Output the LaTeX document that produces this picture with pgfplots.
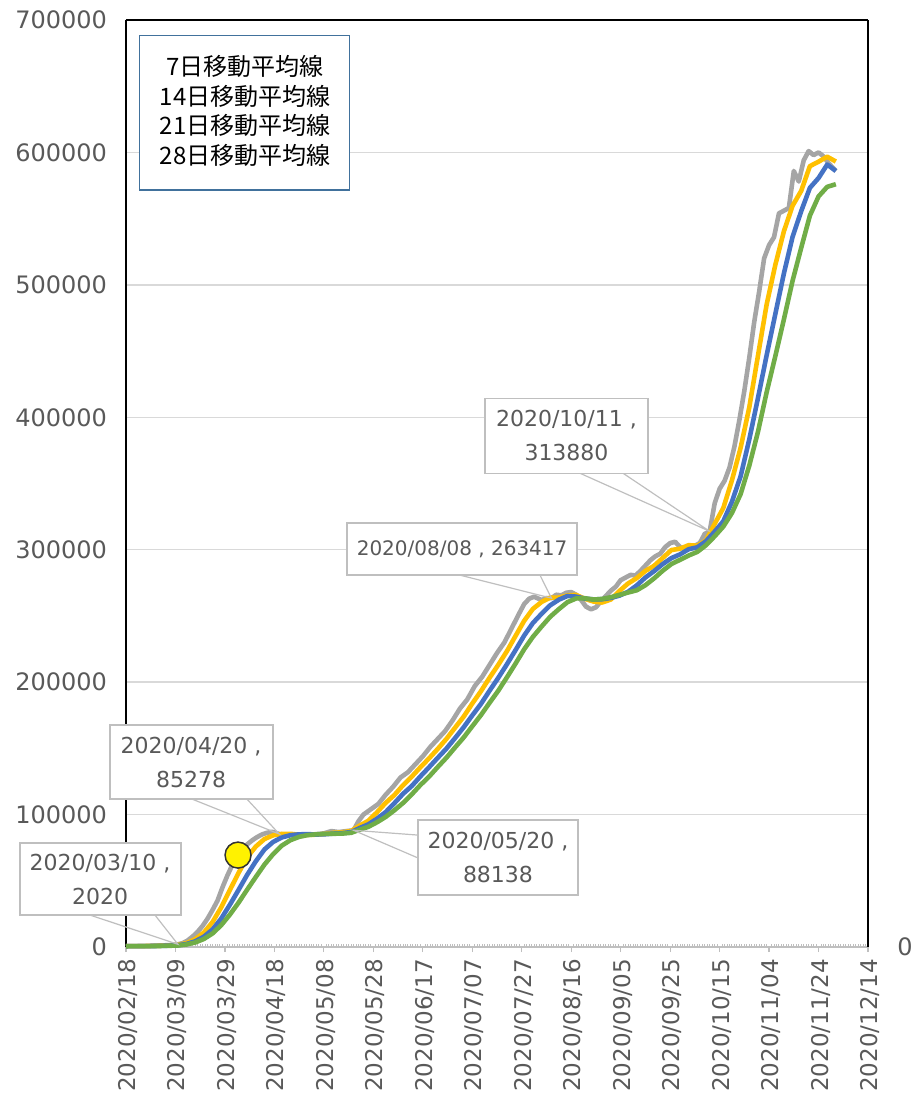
\documentclass[border=0pt]{standalone}
\usepackage{fontspec}
\setmainfont{DejaVu Sans}
\newfontfamily\jp{Noto Sans CJK JP}
\usepackage{pgfplots}
\pgfplotsset{compat=1.18}
\definecolor{sgray}{HTML}{A5A5A5}
\definecolor{syellow}{HTML}{FFC000}
\definecolor{sblue}{HTML}{4472C4}
\definecolor{sgreen}{HTML}{70AD47}
\definecolor{gridc}{HTML}{D9D9D9}
\definecolor{lbl}{HTML}{595959}
\definecolor{legendblue}{HTML}{41719C}
\definecolor{callout}{HTML}{BFBFBF}
\begin{document}
\begin{tikzpicture}
\begin{axis}[
  width=371pt, height=463.5pt, scale only axis,
  xmin=0, xmax=300, ymin=0, ymax=700000,
  clip=false,
  separate axis lines,
  x axis line style={draw=callout, line width=0.75pt},
  y axis line style={draw=black, line width=0.9pt},
  xtick={0,20,...,300},
  xticklabels={2020/02/18,2020/03/09,2020/03/29,2020/04/18,2020/05/08,2020/05/28,2020/06/17,2020/07/07,2020/07/27,2020/08/16,2020/09/05,2020/09/25,2020/10/15,2020/11/04,2020/11/24,2020/12/14},
  minor x tick num=19,
  xtick pos=bottom,
  tick align=outside,
  major tick length=2.5pt,
  minor tick length=1.5pt,
  x tick style={draw=callout, line width=0.6pt},
  minor x tick style={draw=callout, line width=0.5pt, yshift=1.5pt},
  xticklabel style={rotate=90, anchor=east, font=\fontsize{11.5}{13}\selectfont, text=lbl, yshift=-1pt},
  ytick={0,100000,...,700000},
  ytick style={draw=none},
  ymajorgrids,
  grid style={draw=gridc, line width=0.75pt},
  yticklabel style={font=\fontsize{12}{14}\selectfont, text=lbl, xshift=-3.5pt},
  scaled y ticks=false,
  /pgf/number format/.cd, fixed, precision=0, 1000 sep={}, assume math mode=true,
  /pgfplots/.cd,
  legend style={at={(axis description cs:0.0175,0.984)}, anchor=north west,
    draw=legendblue, line width=0.75pt, fill=white,
    font=\jp\fontsize{12}{14}\selectfont, text=black,
    inner xsep=10pt, inner ysep=9pt, row sep=0pt,
    nodes={inner xsep=0pt, inner ysep=0pt, text height=11pt, text depth=3.8pt, text width=85pt, align=center}},
  legend image code/.code={},
  extra description/.code={
    \draw[black, line width=0.9pt] (rel axis cs:0,1) -- (rel axis cs:1,1);
    \node[text=lbl, font=\fontsize{12}{14}\selectfont] at (rel axis cs:1,0) [xshift=18.5pt] {0};
    \path (rel axis cs:0,0) ++(-63pt,-77pt) rectangle ++(457.5pt,550.5pt);
  },
]
% 7-day
\addplot[sgray, line width=2.3pt, line join=round] coordinates {
(0,600)(4,700)(8,800)(12,1000)(16,1300)(19,1600)(21,2020)(23,3000)(25,5000)(27,8000)(29,11500)(31,16000)(33,21500)(35,28000)(37,35000)(39,45000)(41,54000)(43,62000)(45,68000)(47,73500)(49,77500)(51,80500)(53,83000)(55,85000)(57,86200)(59,87000)(62,85278)(65,84800)(68,84400)(71,84500)(74,84800)(77,85200)(80,85800)(83,87500)(86,86800)(89,87500)(92,88138)(94,95000)(96,100000)(99,104000)(102,108000)(105,115000)(108,121000)(111,128000)(114,132000)(117,138000)(120,144000)(123,151000)(126,157000)(129,163000)(132,171000)(135,180000)(138,187000)(141,197000)(144,204000)(147,213000)(150,222000)(153,230000)(156,241000)(159,252000)(161,259000)(163,263000)(165,264500)(168,262000)(170,263500)(172,263417)(174,266000)(176,265500)(178,267500)(180,268000)(182,266000)(184,262000)(186,257000)(188,255000)(190,256500)(192,261000)(194,265000)(196,269000)(198,272000)(200,277000)(202,279000)(204,281000)(206,280500)(208,284000)(210,288000)(212,292000)(214,295000)(216,297000)(218,302000)(220,305000)(222,306000)(224,302000)(226,300500)(228,302000)(230,303000)(232,305000)(234,312000)(236,313880)(238,335000)(240,346000)(242,352000)(244,362000)(246,378000)(248,398000)(250,420000)(252,445000)(254,472000)(256,495000)(258,520000)(260,530000)(262,536000)(264,554000)(266,556000)(268,558000)(270,586000)(272,578000)(274,594000)(276,601000)(278,598000)(280,600000)(282,597000)(284,592000)(287,586000)
};
% 14-day
\addplot[syellow, line width=2.3pt, line join=round] coordinates {
(0,600)(3.5,645)(7,688)(10.5,808)(14,963)(17.5,1188)(21,1585)(24.5,2975)(28,5885)(31.5,10950)(35,18875)(38.5,29950)(42,43000)(45.5,55950)(49,67750)(52.5,75900)(56,81550)(59.5,84350)(63,85360)(66.5,85450)(70,84795)(73.5,84675)(77,84835)(80.5,85415)(84,86235)(87.5,86615)(91,87600)(94.5,91700)(98,95315)(101.5,101775)(105,108850)(108.5,114750)(112,122150)(115.5,128600)(119,135650)(122.5,142400)(126,149500)(129.5,157050)(133,165500)(136.5,173900)(140,183850)(143.5,193150)(147,203350)(150.5,213050)(154,223350)(157.5,234900)(161,246350)(164.5,255300)(168,260500)(171.5,263770)(175,263875)(178.5,265520)(182,265875)(185.5,262925)(189,260875)(192.5,260125)(196,262375)(199.5,268875)(203,274500)(206.5,278575)(210,284000)(213.5,287825)(217,293750)(220.5,299750)(224,300750)(227.5,303425)(231,303000)(234.5,307035)(238,319500)(241.5,331485)(245,352500)(248.5,377000)(252,407500)(255.5,446375)(259,485000)(262.5,514875)(266,540500)(269.5,559750)(273,571000)(276.5,589625)(280,593000)(283.5,596750)(287,593125)
};
% 21-day
\addplot[sblue, line width=2.3pt, line join=round] coordinates {
(0,600)(3.5,630)(7,658)(10.5,738)(14,842)(17.5,1022)(21,1315)(24.5,2292)(28,4307)(31.5,7783)(35,13257)(38.5,21467)(42,31917)(45.5,43100)(49,54500)(52.5,64767)(56,73700)(59.5,79367)(63,82740)(66.5,84433)(70,85063)(73.5,85217)(77,84930)(80.5,85143)(84,85647)(87.5,85993)(91,86800)(94.5,89827)(98,92633)(101.5,96900)(105,101877)(108.5,108583)(112,115667)(115.5,121500)(119,128767)(122.5,135667)(126,142767)(129.5,149700)(133,157667)(136.5,165867)(140,174900)(143.5,183533)(147,193567)(150.5,203200)(154,213467)(157.5,224200)(161,235233)(164.5,244633)(168,251567)(171.5,258013)(175,262250)(178.5,265047)(182,264583)(185.5,263097)(189,262500)(192.5,262617)(196,263583)(199.5,265333)(203,268250)(206.5,273050)(210,279000)(213.5,283800)(217,289167)(220.5,293633)(224,296500)(227.5,300367)(231,301833)(234.5,306440)(238,313667)(241.5,321523)(245,336333)(248.5,355490)(252,383333)(255.5,414417)(259,446667)(262.5,477750)(266,508667)(269.5,536250)(273,555667)(276.5,573250)(280,580667)(283.5,590833)(287,586000)
};
% 28-day
\addplot[sgreen, line width=2.3pt, line join=round] coordinates {
(0,600)(3.5,623)(7,644)(10.5,704)(14,781)(17.5,916)(21,1136)(24.5,1891)(28,3424)(31.5,6069)(35,10230)(38.5,16463)(42,24443)(45.5,33450)(49,43313)(52.5,52925)(56,62275)(59.5,70150)(63,76555)(66.5,80675)(70,83173)(73.5,84513)(77,85098)(80.5,85433)(84,85515)(87.5,85645)(91,86218)(94.5,88558)(98,90775)(101.5,94195)(105,98225)(108.5,103225)(112,108733)(115.5,115188)(119,122250)(122.5,128575)(126,135825)(129.5,142825)(133,150575)(136.5,158150)(140,166675)(143.5,175100)(147,184425)(150.5,193475)(154,203600)(157.5,214025)(161,224850)(164.5,234175)(168,241925)(171.5,249335)(175,255113)(178.5,260410)(182,263188)(185.5,263348)(189,262375)(192.5,262823)(196,264125)(199.5,265900)(203,267688)(206.5,269350)(210,273188)(213.5,278350)(217,284125)(220.5,289163)(224,292375)(227.5,295625)(231,298375)(234.5,303393)(238,310125)(241.5,317455)(245,327750)(248.5,342018)(252,363500)(255.5,388930)(259,418750)(262.5,445938)(266,474000)(269.5,503063)(273,528000)(276.5,552250)(280,566750)(283.5,574000)(287,576000)
};
\legend{7日移動平均線,14日移動平均線,21日移動平均線,28日移動平均線}
% highlighted point
\addplot[only marks, mark=*, mark size=6.5pt, mark options={fill=yellow, draw=black!80, line width=0.75pt}, forget plot] coordinates {(45.3,69400)};
% callouts
\draw[callout, line width=0.6pt] (axis cs:-14.6,24150) -- (axis cs:21,2020) -- (axis cs:11.7,24150);
\filldraw[fill=white, draw=callout, line width=0.75pt] (axis cs:-42.9,24150) rectangle (axis cs:22.2,78490);
\node[text=lbl, align=center, font=\fontsize{11}{17}\selectfont] at (axis cs:-10.5,51300) {2020/03/10 ,\\2020};
\draw[callout, line width=0.6pt] (axis cs:26.7,111700) -- (axis cs:62,85278) -- (axis cs:48.9,111700);
\filldraw[fill=white, draw=callout, line width=0.75pt] (axis cs:-6.5,111700) rectangle (axis cs:59.4,167550);
\node[text=lbl, align=center, font=\fontsize{11}{17}\selectfont] at (axis cs:26.3,139600) {2020/04/20 ,\\85278};
\draw[callout, line width=0.6pt] (axis cs:118.1,84500) -- (axis cs:92,88138) -- (axis cs:118.1,67200);
\filldraw[fill=white, draw=callout, line width=0.75pt] (axis cs:118.1,39250) rectangle (axis cs:182.8,95850);
\node[text=lbl, align=center, font=\fontsize{11}{17}\selectfont] at (axis cs:150.4,67900) {2020/05/20 ,\\88138};
\draw[callout, line width=0.6pt] (axis cs:135.1,280750) -- (axis cs:172,263417) -- (axis cs:167.4,280750);
\filldraw[fill=white, draw=callout, line width=0.75pt] (axis cs:89.4,280750) rectangle (axis cs:182.4,320000);
\node[text=lbl, align=center, font=\fontsize{10}{12}\selectfont] at (axis cs:135.9,300400) {2020/08/08 , 263417};
\draw[callout, line width=0.6pt] (axis cs:183.6,357700) -- (axis cs:236,313880) -- (axis cs:201,357700);
\filldraw[fill=white, draw=callout, line width=0.75pt] (axis cs:145.2,357700) rectangle (axis cs:211.1,414340);
\node[text=lbl, align=center, font=\fontsize{11}{17}\selectfont] at (axis cs:178.1,386000) {2020/10/11 ,\\313880};
\end{axis}
\end{tikzpicture}
\end{document}
